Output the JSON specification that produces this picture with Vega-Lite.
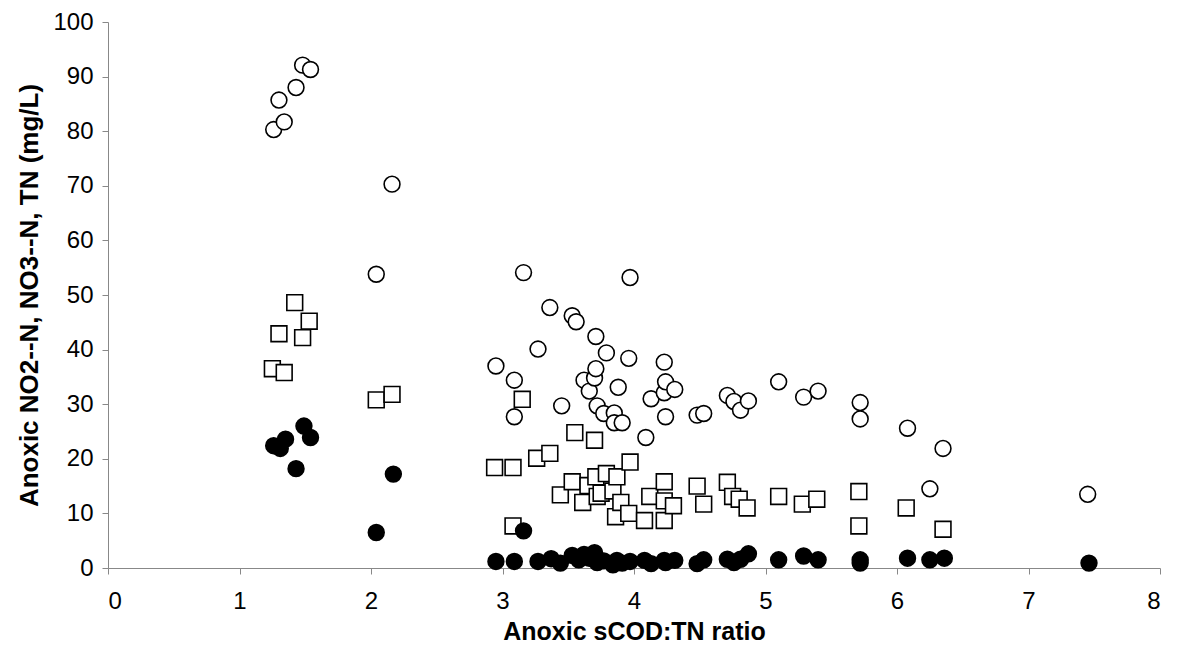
{
  "$schema": "https://vega.github.io/schema/vega-lite/v6.json",
  "width": 1052,
  "height": 546,
  "autosize": {"type": "none"},
  "padding": {"left": 108, "top": 22, "right": 18, "bottom": 83},
  "background": "white",
  "config": {"view": {"stroke": null}, "font": "Liberation Sans"},
  "data": {"values": [
    {"ratio": 1.26, "series": "TN", "conc": 80.3},
    {"ratio": 1.30, "series": "TN", "conc": 85.7},
    {"ratio": 1.34, "series": "TN", "conc": 81.7},
    {"ratio": 1.43, "series": "TN", "conc": 88.0},
    {"ratio": 1.48, "series": "TN", "conc": 92.1},
    {"ratio": 1.54, "series": "TN", "conc": 91.3},
    {"ratio": 2.04, "series": "TN", "conc": 53.8},
    {"ratio": 2.16, "series": "TN", "conc": 70.3},
    {"ratio": 2.95, "series": "TN", "conc": 37.0},
    {"ratio": 3.09, "series": "TN", "conc": 34.4},
    {"ratio": 3.09, "series": "TN", "conc": 27.7},
    {"ratio": 3.16, "series": "TN", "conc": 54.1},
    {"ratio": 3.27, "series": "TN", "conc": 40.1},
    {"ratio": 3.36, "series": "TN", "conc": 47.7},
    {"ratio": 3.45, "series": "TN", "conc": 29.7},
    {"ratio": 3.53, "series": "TN", "conc": 46.2},
    {"ratio": 3.56, "series": "TN", "conc": 45.1},
    {"ratio": 3.62, "series": "TN", "conc": 34.4},
    {"ratio": 3.66, "series": "TN", "conc": 32.4},
    {"ratio": 3.70, "series": "TN", "conc": 34.8},
    {"ratio": 3.71, "series": "TN", "conc": 42.4},
    {"ratio": 3.71, "series": "TN", "conc": 36.5},
    {"ratio": 3.72, "series": "TN", "conc": 29.7},
    {"ratio": 3.77, "series": "TN", "conc": 28.3},
    {"ratio": 3.79, "series": "TN", "conc": 39.4},
    {"ratio": 3.85, "series": "TN", "conc": 28.4},
    {"ratio": 3.85, "series": "TN", "conc": 26.6},
    {"ratio": 3.88, "series": "TN", "conc": 33.1},
    {"ratio": 3.91, "series": "TN", "conc": 26.6},
    {"ratio": 3.96, "series": "TN", "conc": 38.4},
    {"ratio": 3.97, "series": "TN", "conc": 53.2},
    {"ratio": 4.09, "series": "TN", "conc": 23.9},
    {"ratio": 4.13, "series": "TN", "conc": 31.0},
    {"ratio": 4.23, "series": "TN", "conc": 37.7},
    {"ratio": 4.23, "series": "TN", "conc": 32.1},
    {"ratio": 4.24, "series": "TN", "conc": 34.1},
    {"ratio": 4.24, "series": "TN", "conc": 27.7},
    {"ratio": 4.31, "series": "TN", "conc": 32.7},
    {"ratio": 4.48, "series": "TN", "conc": 28.0},
    {"ratio": 4.53, "series": "TN", "conc": 28.3},
    {"ratio": 4.71, "series": "TN", "conc": 31.6},
    {"ratio": 4.76, "series": "TN", "conc": 30.5},
    {"ratio": 4.81, "series": "TN", "conc": 28.9},
    {"ratio": 4.87, "series": "TN", "conc": 30.6},
    {"ratio": 5.10, "series": "TN", "conc": 34.1},
    {"ratio": 5.29, "series": "TN", "conc": 31.3},
    {"ratio": 5.40, "series": "TN", "conc": 32.4},
    {"ratio": 5.72, "series": "TN", "conc": 30.3},
    {"ratio": 5.72, "series": "TN", "conc": 27.3},
    {"ratio": 6.08, "series": "TN", "conc": 25.6},
    {"ratio": 6.25, "series": "TN", "conc": 14.5},
    {"ratio": 6.35, "series": "TN", "conc": 21.9},
    {"ratio": 7.45, "series": "TN", "conc": 13.5},

    {"ratio": 1.25, "series": "NO3-N", "conc": 36.5},
    {"ratio": 1.30, "series": "NO3-N", "conc": 42.9},
    {"ratio": 1.34, "series": "NO3-N", "conc": 35.8},
    {"ratio": 1.42, "series": "NO3-N", "conc": 48.6},
    {"ratio": 1.48, "series": "NO3-N", "conc": 42.2},
    {"ratio": 1.53, "series": "NO3-N", "conc": 45.2},
    {"ratio": 2.04, "series": "NO3-N", "conc": 30.8},
    {"ratio": 2.16, "series": "NO3-N", "conc": 31.8},
    {"ratio": 2.94, "series": "NO3-N", "conc": 18.4},
    {"ratio": 3.08, "series": "NO3-N", "conc": 18.4},
    {"ratio": 3.08, "series": "NO3-N", "conc": 7.7},
    {"ratio": 3.15, "series": "NO3-N", "conc": 30.9},
    {"ratio": 3.26, "series": "NO3-N", "conc": 20.1},
    {"ratio": 3.36, "series": "NO3-N", "conc": 21.0},
    {"ratio": 3.44, "series": "NO3-N", "conc": 13.4},
    {"ratio": 3.53, "series": "NO3-N", "conc": 15.8},
    {"ratio": 3.55, "series": "NO3-N", "conc": 24.8},
    {"ratio": 3.61, "series": "NO3-N", "conc": 12.0},
    {"ratio": 3.65, "series": "NO3-N", "conc": 15.1},
    {"ratio": 3.70, "series": "NO3-N", "conc": 23.4},
    {"ratio": 3.71, "series": "NO3-N", "conc": 16.7},
    {"ratio": 3.72, "series": "NO3-N", "conc": 13.1},
    {"ratio": 3.75, "series": "NO3-N", "conc": 13.7},
    {"ratio": 3.79, "series": "NO3-N", "conc": 17.3},
    {"ratio": 3.84, "series": "NO3-N", "conc": 14.1},
    {"ratio": 3.86, "series": "NO3-N", "conc": 9.4},
    {"ratio": 3.87, "series": "NO3-N", "conc": 16.7},
    {"ratio": 3.90, "series": "NO3-N", "conc": 12.0},
    {"ratio": 3.96, "series": "NO3-N", "conc": 10.0},
    {"ratio": 3.97, "series": "NO3-N", "conc": 19.4},
    {"ratio": 4.08, "series": "NO3-N", "conc": 8.7},
    {"ratio": 4.12, "series": "NO3-N", "conc": 13.1},
    {"ratio": 4.23, "series": "NO3-N", "conc": 15.8},
    {"ratio": 4.23, "series": "NO3-N", "conc": 12.3},
    {"ratio": 4.23, "series": "NO3-N", "conc": 8.7},
    {"ratio": 4.30, "series": "NO3-N", "conc": 11.4},
    {"ratio": 4.48, "series": "NO3-N", "conc": 15.0},
    {"ratio": 4.53, "series": "NO3-N", "conc": 11.7},
    {"ratio": 4.71, "series": "NO3-N", "conc": 15.7},
    {"ratio": 4.75, "series": "NO3-N", "conc": 13.1},
    {"ratio": 4.80, "series": "NO3-N", "conc": 12.6},
    {"ratio": 4.86, "series": "NO3-N", "conc": 11.0},
    {"ratio": 5.10, "series": "NO3-N", "conc": 13.1},
    {"ratio": 5.28, "series": "NO3-N", "conc": 11.7},
    {"ratio": 5.39, "series": "NO3-N", "conc": 12.6},
    {"ratio": 5.71, "series": "NO3-N", "conc": 14.0},
    {"ratio": 5.71, "series": "NO3-N", "conc": 7.7},
    {"ratio": 6.07, "series": "NO3-N", "conc": 11.0},
    {"ratio": 6.35, "series": "NO3-N", "conc": 7.1},

    {"ratio": 1.26, "series": "NO2-N", "conc": 22.4},
    {"ratio": 1.31, "series": "NO2-N", "conc": 21.9},
    {"ratio": 1.35, "series": "NO2-N", "conc": 23.6},
    {"ratio": 1.43, "series": "NO2-N", "conc": 18.2},
    {"ratio": 1.49, "series": "NO2-N", "conc": 26.0},
    {"ratio": 1.54, "series": "NO2-N", "conc": 23.9},
    {"ratio": 2.04, "series": "NO2-N", "conc": 6.5},
    {"ratio": 2.17, "series": "NO2-N", "conc": 17.2},
    {"ratio": 2.95, "series": "NO2-N", "conc": 1.2},
    {"ratio": 3.09, "series": "NO2-N", "conc": 1.2},
    {"ratio": 3.16, "series": "NO2-N", "conc": 6.8},
    {"ratio": 3.27, "series": "NO2-N", "conc": 1.2},
    {"ratio": 3.37, "series": "NO2-N", "conc": 1.7},
    {"ratio": 3.44, "series": "NO2-N", "conc": 0.9},
    {"ratio": 3.53, "series": "NO2-N", "conc": 2.3},
    {"ratio": 3.58, "series": "NO2-N", "conc": 1.5},
    {"ratio": 3.62, "series": "NO2-N", "conc": 2.5},
    {"ratio": 3.66, "series": "NO2-N", "conc": 1.8},
    {"ratio": 3.70, "series": "NO2-N", "conc": 2.8},
    {"ratio": 3.72, "series": "NO2-N", "conc": 1.0},
    {"ratio": 3.77, "series": "NO2-N", "conc": 1.3},
    {"ratio": 3.84, "series": "NO2-N", "conc": 0.6},
    {"ratio": 3.87, "series": "NO2-N", "conc": 1.4},
    {"ratio": 3.91, "series": "NO2-N", "conc": 0.9},
    {"ratio": 3.97, "series": "NO2-N", "conc": 1.2},
    {"ratio": 4.08, "series": "NO2-N", "conc": 1.4},
    {"ratio": 4.13, "series": "NO2-N", "conc": 0.8},
    {"ratio": 4.23, "series": "NO2-N", "conc": 1.4},
    {"ratio": 4.24, "series": "NO2-N", "conc": 1.0},
    {"ratio": 4.31, "series": "NO2-N", "conc": 1.4},
    {"ratio": 4.48, "series": "NO2-N", "conc": 0.8},
    {"ratio": 4.53, "series": "NO2-N", "conc": 1.5},
    {"ratio": 4.71, "series": "NO2-N", "conc": 1.6},
    {"ratio": 4.76, "series": "NO2-N", "conc": 1.0},
    {"ratio": 4.81, "series": "NO2-N", "conc": 1.6},
    {"ratio": 4.87, "series": "NO2-N", "conc": 2.6},
    {"ratio": 5.10, "series": "NO2-N", "conc": 1.5},
    {"ratio": 5.29, "series": "NO2-N", "conc": 2.2},
    {"ratio": 5.40, "series": "NO2-N", "conc": 1.5},
    {"ratio": 5.72, "series": "NO2-N", "conc": 1.5},
    {"ratio": 5.72, "series": "NO2-N", "conc": 0.9},
    {"ratio": 6.08, "series": "NO2-N", "conc": 1.8},
    {"ratio": 6.25, "series": "NO2-N", "conc": 1.5},
    {"ratio": 6.36, "series": "NO2-N", "conc": 1.8},
    {"ratio": 7.46, "series": "NO2-N", "conc": 0.9}
  ]},
  "mark": {"type": "point", "filled": true, "stroke": "black", "strokeWidth": 1.6, "opacity": 1},
  "encoding": {
    "x": {
      "field": "ratio", "type": "quantitative",
      "scale": {"domain": [0, 8], "nice": false, "zero": false},
      "axis": {
        "title": "Anoxic sCOD:TN ratio", "values": [0,1,2,3,4,5,6,7,8], "format": "d",
        "grid": false, "domainColor": "#888888", "tickColor": "#888888", "tickSize": 6,
        "labelFontSize": 24, "labelColor": "black", "labelPadding": 15, "labelFont": "Liberation Sans",
        "titleFontSize": 25, "titleFontWeight": "bold", "titleColor": "black", "titlePadding": 6, "titleFont": "Liberation Sans"
      }
    },
    "y": {
      "field": "conc", "type": "quantitative",
      "scale": {"domain": [0, 100], "nice": false},
      "axis": {
        "title": "Anoxic NO2--N, NO3--N, TN (mg/L)", "values": [0,10,20,30,40,50,60,70,80,90,100],
        "grid": false, "domainColor": "#888888", "tickColor": "#888888", "tickSize": 6,
        "labelFontSize": 24, "labelColor": "black", "labelPadding": 9, "labelFont": "Liberation Sans",
        "titleFontSize": 26, "titleFontWeight": "bold", "titleColor": "black", "titlePadding": 10, "titleFont": "Liberation Sans"
      }
    },
    "shape": {
      "field": "series", "type": "nominal",
      "scale": {"domain": ["TN", "NO3-N", "NO2-N"], "range": ["circle", "square", "circle"]},
      "legend": null
    },
    "fill": {
      "field": "series", "type": "nominal",
      "scale": {"domain": ["TN", "NO3-N", "NO2-N"], "range": ["white", "white", "black"]},
      "legend": null
    },
    "size": {"value": 250}
  }
}
